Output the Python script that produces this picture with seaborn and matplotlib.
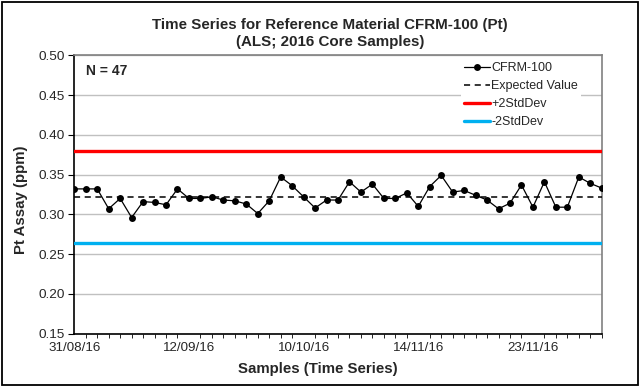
import numpy as np
import pandas as pd
import matplotlib
matplotlib.use("Agg")
import matplotlib.pyplot as plt
from matplotlib.patches import Rectangle
import seaborn as sns

# Pt assay results for CFRM-100, in sample order (ppm)
pt_assay = [
    0.332, 0.332, 0.332, 0.307, 0.320, 0.296, 0.316, 0.315, 0.312, 0.332,
    0.320, 0.320, 0.322, 0.318, 0.317, 0.313, 0.301, 0.317, 0.347, 0.336,
    0.322, 0.308, 0.318, 0.318, 0.341, 0.328, 0.338, 0.320, 0.320, 0.327,
    0.310, 0.335, 0.349, 0.328, 0.330, 0.324, 0.318, 0.307, 0.314, 0.337,
    0.309, 0.341, 0.309, 0.309, 0.347, 0.339, 0.333,
]
expected_value = 0.322
plus_2sd = 0.380
minus_2sd = 0.264
tick_positions = [0, 10, 20, 30, 40]
tick_labels = ["31/08/16", "12/09/16", "10/10/16", "14/11/16", "23/11/16"]
n_label = "N = 47"

n = len(pt_assay)
idx = np.arange(n)
df = pd.DataFrame({
    "sample": idx,
    "assay": pt_assay,
    "expected": [expected_value] * n,
    "upper": [plus_2sd] * n,
    "lower": [minus_2sd] * n,
})

sns.set_style("white")
plt.rcParams["font.family"] = ["Liberation Sans", "DejaVu Sans"]

fig = plt.figure(figsize=(6.4, 3.87), dpi=100)
ax = fig.add_axes([0.1161, 0.138, 0.8241, 0.719])

sns.lineplot(data=df, x="sample", y="upper", ax=ax, color="#FF0000",
             linewidth=2.4, label="+2StdDev", zorder=3)
sns.lineplot(data=df, x="sample", y="lower", ax=ax, color="#00B0F0",
             linewidth=2.4, label="-2StdDev", zorder=3)
sns.lineplot(data=df, x="sample", y="expected", ax=ax, color="black",
             linewidth=1.1, linestyle=(0, (4, 3)), label="Expected Value", zorder=4)
sns.lineplot(data=df, x="sample", y="assay", ax=ax, color="black",
             linewidth=0.9, marker="o", markersize=5, markeredgewidth=0,
             label="CFRM-100", zorder=5)

ax.set_xlim(0, n - 1)
ax.set_ylim(0.15, 0.50)
yt = np.arange(0.15, 0.501, 0.05)
ax.set_yticks(yt)
ax.set_yticklabels([f"{v:.2f}" for v in yt], fontsize=9.7)
ax.set_xticks(tick_positions)
ax.set_xticklabels(tick_labels, fontsize=9.6)
ax.set_xticks(idx, minor=True)
ax.tick_params(axis="x", which="major", length=0, pad=6)
ax.tick_params(axis="x", which="minor", length=3, width=0.6, color="black",
               direction="out", bottom=True)
ax.tick_params(axis="y", which="major", length=4, width=0.8, color="black",
               direction="out", left=True, pad=3)

ax.yaxis.grid(True, color="#c0c0c0", linewidth=1.0)
ax.xaxis.grid(False)
ax.set_axisbelow(True)

for side in ("left", "bottom"):
    ax.spines[side].set_color("black")
    ax.spines[side].set_linewidth(1.2)
for side in ("top", "right"):
    ax.spines[side].set_color("#808080")
    ax.spines[side].set_linewidth(1.2)

ax.set_xlabel("Samples (Time Series)", fontsize=10.8, fontweight="bold")
ax.set_ylabel("Pt Assay (ppm)", fontsize=10.8, fontweight="bold")
ax.xaxis.set_label_coords(0.462, -0.102)
ax.yaxis.set_label_coords(-0.087, 0.48)

fig.text(0.516, 0.935, "Time Series for Reference Material CFRM-100 (Pt)",
         ha="center", va="center", fontsize=10.9, fontweight="bold")
fig.text(0.516, 0.892, "(ALS; 2016 Core Samples)",
         ha="center", va="center", fontsize=10.9, fontweight="bold")

ax.text(0.022, 0.968, n_label, transform=ax.transAxes, ha="left", va="top",
        fontsize=10, fontweight="bold")

handles, labels = ax.get_legend_handles_labels()
order = [labels.index(k) for k in ["CFRM-100", "Expected Value", "+2StdDev", "-2StdDev"]]
leg = ax.legend([handles[i] for i in order], [labels[i] for i in order],
                loc="upper right", bbox_to_anchor=(0.968, 1.0), fontsize=9,
                frameon=True, fancybox=False, framealpha=1.0, edgecolor="white",
                handlelength=2.1, handletextpad=0.1, labelspacing=0.48,
                borderpad=0.25, borderaxespad=0.3)
leg.get_frame().set_linewidth(0)

fig.patches.append(Rectangle((0.003, 0.004), 0.994, 0.992, transform=fig.transFigure,
                             fill=False, edgecolor="black", linewidth=1.3))

fig.savefig("out.png", dpi=100)
